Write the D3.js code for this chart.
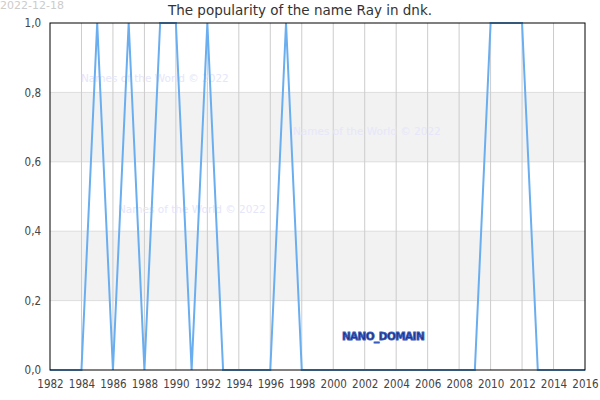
<!DOCTYPE html>
<html lang="en">
<head>
  <meta charset="UTF-8" />
  <title>The popularity of the name Ray in dnk.</title>
  <script src="https://d3js.org/d3.v7.min.js"></script>
  <style>
    body { margin: 0; background: #fff; font-family: "DejaVu Sans", sans-serif; }
    svg { display: block; }
  </style>
</head>
<body>
<svg id="chart" width="600" height="400"></svg>
<script>
// data
const years = d3.range(1982, 2017);
const popularity = [
  0, 0, 0, 1, 0, 1, 0, 1, 1, 0,   // 1982-1991
  1, 0, 0, 0, 0, 1, 0, 0, 0, 0,   // 1992-2001
  0, 0, 0, 0, 0, 0, 0, 0, 1, 1,   // 2002-2011
  1, 0, 0, 0, 0                   // 2012-2016
];
const xTicks = d3.range(1982, 2017, 2);
const yTicks = [0, 0.2, 0.4, 0.6, 0.8, 1.0];
const bands = [[0.2, 0.4], [0.6, 0.8]];
const watermarks = [[81, 78], [293, 131], [118, 209]];

const svg = d3.select("#chart");
const m = { left: 50, right: 585, top: 23, bottom: 370 };

const x = d3.scaleLinear().domain([1982, 2016]).range([m.left, m.right]);
const y = d3.scaleLinear().domain([0, 1]).range([m.bottom, m.top]);

// shaded bands
svg.append("g").selectAll("rect")
  .data(bands)
  .enter().append("rect")
  .attr("x", m.left)
  .attr("width", m.right - m.left)
  .attr("y", d => y(d[1]))
  .attr("height", d => y(d[0]) - y(d[1]))
  .attr("fill", "#f2f2f2");

// horizontal grid
svg.append("g").selectAll("line")
  .data(yTicks.slice(1, -1))
  .enter().append("line")
  .attr("x1", m.left).attr("x2", m.right)
  .attr("y1", d => y(d)).attr("y2", d => y(d))
  .attr("stroke", "#dddddd");

// vertical grid
svg.append("g").selectAll("line")
  .data(xTicks.slice(1, -1))
  .enter().append("line")
  .attr("y1", m.top).attr("y2", m.bottom)
  .attr("x1", d => x(d)).attr("x2", d => x(d))
  .attr("stroke", "#cccccc");

// watermarks
svg.append("g").selectAll("text")
  .data(watermarks)
  .enter().append("text")
  .attr("x", d => d[0]).attr("y", d => d[1])
  .attr("dy", "0.35em")
  .attr("font-size", 10.5)
  .attr("fill", "#e6e6fa")
  .text("Names of the World © 2022");

// line
const line = d3.line()
  .x((d, i) => x(years[i]))
  .y(d => y(d));

svg.append("path")
  .datum(popularity)
  .attr("d", line)
  .attr("fill", "none")
  .attr("stroke", "#6aaef0")
  .attr("stroke-width", 2);

// frame
svg.append("rect")
  .attr("x", m.left).attr("y", m.top)
  .attr("width", m.right - m.left).attr("height", m.bottom - m.top)
  .attr("fill", "none")
  .attr("stroke", "#000");

// axes
const fmt = d => d.toFixed(1).replace(".", ",");
const yAxis = svg.append("g")
  .attr("transform", `translate(${m.left},0)`)
  .call(d3.axisLeft(y).tickValues(yTicks).tickFormat(fmt).tickSize(0).tickPadding(9));
const xAxis = svg.append("g")
  .attr("transform", `translate(0,${m.bottom})`)
  .call(d3.axisBottom(x).tickValues(xTicks).tickFormat(d3.format("d")).tickSize(0).tickPadding(9.5));
[yAxis, xAxis].forEach(a => {
  a.select(".domain").remove();
  a.selectAll("text")
    .attr("font-family", "'DejaVu Sans Condensed', 'DejaVu Sans', sans-serif")
    .attr("font-size", 11.5)
    .attr("fill", "#444");
});

// title
svg.append("text")
  .attr("x", 300).attr("y", 15)
  .attr("text-anchor", "middle")
  .attr("font-size", 13.5)
  .attr("fill", "#333")
  .text("The popularity of the name Ray in dnk.");

// date stamp
svg.append("text")
  .attr("x", 0).attr("y", 9)
  .attr("font-size", 11)
  .attr("fill", "#cccccc")
  .text("2022-12-18");

// domain tag
svg.append("text")
  .attr("x", 383).attr("y", 336)
  .attr("dy", "0.35em")
  .attr("text-anchor", "middle")
  .attr("font-size", 10.5)
  .attr("font-weight", "bold")
  .attr("fill", "#1c2f7a")
  .attr("stroke", "#3a5cc0")
  .attr("stroke-width", 0.8)
  .attr("letter-spacing", -0.6)
  .text("NANO_DOMAIN");
</script>
</body>
</html>
